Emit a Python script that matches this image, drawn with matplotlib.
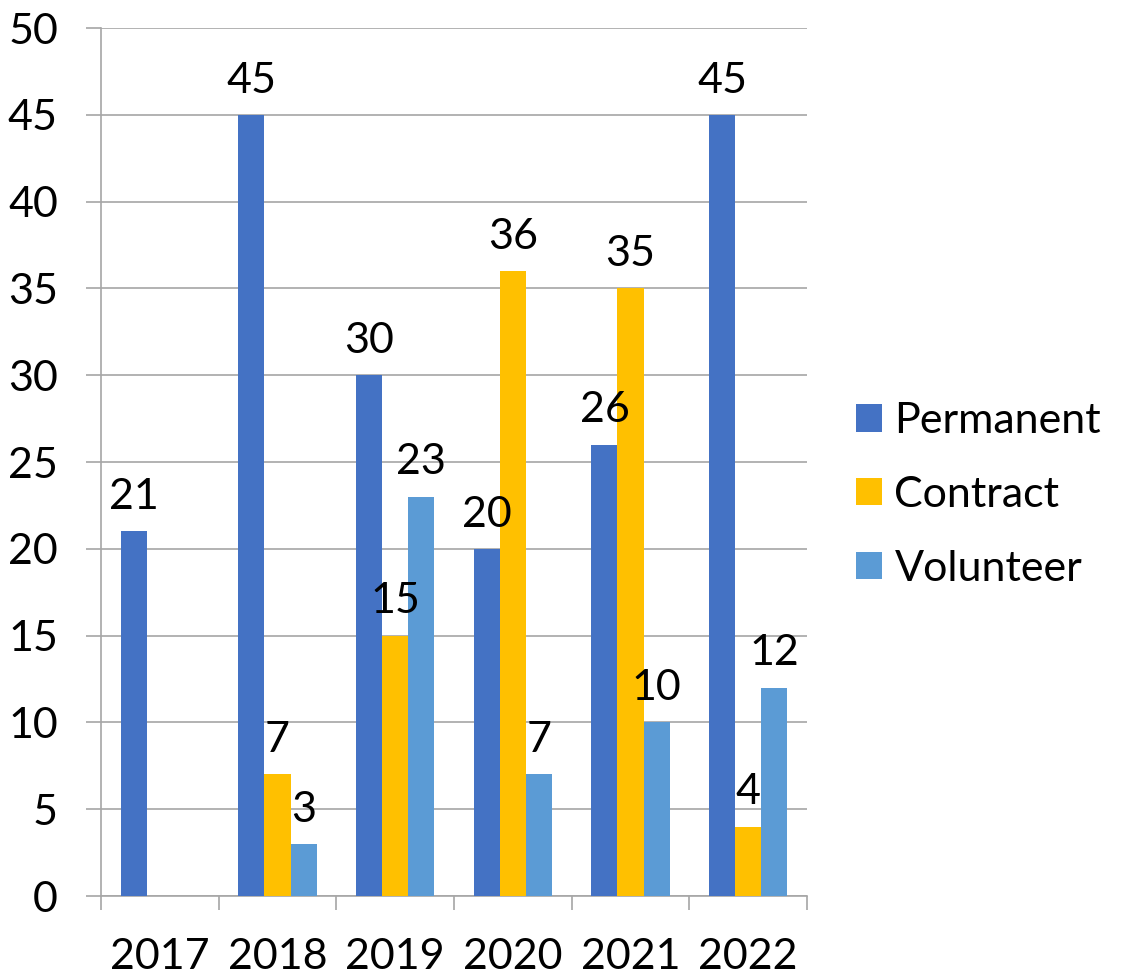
import matplotlib
matplotlib.use("Agg")
import matplotlib.pyplot as plt
import numpy as np

years = ["2017", "2018", "2019", "2020", "2021", "2022"]
series_names = ["Permanent", "Contract", "Volunteer"]
permanent = [21, 45, 30, 20, 26, 45]
contract = [None, 7, 15, 36, 35, 4]
volunteer = [None, 3, 23, 7, 10, 12]
colors = ["#4472C4", "#FFC000", "#5B9BD5"]

plt.rcParams['font.family'] = ['Lato', 'DejaVu Sans']
FS = 31
DPI = 100
fig = plt.figure(figsize=(11.24, 9.80), dpi=DPI)
ax = fig.add_axes([101/1124, 1-896/980, (807-101)/1124, (896-28)/980])

x = np.arange(len(years))
w = 0.221
grid_c = "#A6A6A6"
for i, (name, vals, c) in enumerate(zip(series_names, [permanent, contract, volunteer], colors)):
    xs = [xx + (i-1)*w for xx, v in zip(x, vals) if v is not None]
    vs = [v for v in vals if v is not None]
    ax.bar(xs, vs, width=w, color=c, label=name, zorder=3)
    for xx, v in zip(xs, vs):
        ax.annotate(str(v), (xx, v), xytext=(0, 16), textcoords='offset points',
                    ha='center', va='baseline', fontsize=FS, zorder=4)

ax.set_xlim(-0.5, 5.5)
ax.set_ylim(0, 50)
ax.set_yticks(range(0, 51, 5))
ax.yaxis.grid(True, color=grid_c, linewidth=1.2, zorder=0)
ax.set_axisbelow(True)
for s in ["top", "right"]:
    ax.spines[s].set_visible(False)
for s in ["left", "bottom"]:
    ax.spines[s].set_color(grid_c)
    ax.spines[s].set_linewidth(1.2)
ax.tick_params(axis='y', length=11, width=1.2, color=grid_c, pad=20, labelsize=FS)
ax.set_xticks(x)
ax.set_xticklabels(years)
ax.set_xticks(np.arange(-0.5, 6.0, 1.0), minor=True)
ax.tick_params(axis='x', which='major', length=0, pad=30, labelsize=FS)
ax.tick_params(axis='x', which='minor', length=10, width=1.2, color=grid_c)

leg = fig.legend(loc='center left', bbox_to_anchor=(817/1124, 1-495/980), frameon=False,
                 fontsize=FS, handlelength=0.6, handleheight=0.6, handletextpad=0.3,
                 labelspacing=0.83)
fig.savefig("out.png", dpi=DPI)
